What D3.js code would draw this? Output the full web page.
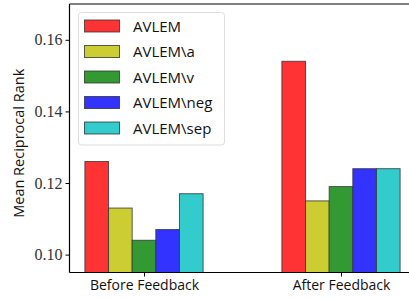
<!DOCTYPE html>
<html>
<head>
<script src="https://cdn.jsdelivr.net/npm/d3@7"></script>
<style>
	body { margin: 0; background: #fff; }
	svg { display: block; }
</style>
</head>
<body>
<div id="container"></div>
<script>
	const width = 409, height = 299;

	// chart data
	const groups = ["Before Feedback", "After Feedback"];
	const models = ["AVLEM", "AVLEM\\a", "AVLEM\\v", "AVLEM\\neg", "AVLEM\\sep"];
	const colors = ["#ff3333", "#cccc33", "#339933", "#3333ff", "#33cccc"];
	const before = [0.126, 0.113, 0.104, 0.107, 0.117];
	const after = [0.154, 0.115, 0.119, 0.124, 0.124];
	const yTicks = [0.10, 0.12, 0.14, 0.16];

	const values = [before, after];
	const barW = 0.12;

	const mLeft = 69.5, mTop = 4, mBottom = 272.5;

	// x in "category units": tick 0 at 144px, tick 1 at 341px
	const x = d3.scaleLinear().domain([0, 1]).range([144, 341]);
	const y = d3.scaleLinear().domain([0.095, 0.17]).range([mBottom, mTop]);

	const svg = d3.select("#container").append("svg")
		.attr("width", width).attr("height", height);

	svg.append("clipPath").attr("id", "plot")
		.append("rect").attr("x", mLeft).attr("y", mTop).attr("width", width - mLeft).attr("height", mBottom - mTop);

	/*** bars ***/
	const bars = svg.append("g").attr("clip-path", "url(#plot)");
	groups.forEach(function(g, gi) {
		models.forEach(function(m, mi) {
			const x0 = x(gi + (mi - 2.5) * barW);
			const x1 = x(gi + (mi - 1.5) * barW);
			bars.append("rect")
				.attr("x", x0).attr("width", x1 - x0)
				.attr("y", y(values[gi][mi]))
				.attr("height", y(0.095) - y(values[gi][mi]) + 2)
				.attr("fill", colors[mi])
				.attr("stroke", "#333").attr("stroke-opacity", 0.8).attr("stroke-width", 1);
		});
	});

	/*** axes ***/
	const yAxis = d3.axisLeft(y).tickValues(yTicks).tickSize(4).tickPadding(3).tickFormat(d3.format(".2f"));
	const ga = svg.append("g").attr("transform", "translate(" + mLeft + ",0)").call(yAxis);
	ga.select(".domain").remove();
	ga.selectAll("text").attr("font-family", "'Liberation Serif', serif")
		.attr("font-size", 16).attr("fill", "#333");
	ga.selectAll("line").attr("stroke", "#000");

	const xAxis = d3.axisBottom(x).tickValues([0, 1]).tickSize(4).tickPadding(4).tickFormat(function(d) { return groups[d]; });
	const gx = svg.append("g").attr("transform", "translate(0," + mBottom + ")").call(xAxis);
	gx.select(".domain").remove();
	gx.selectAll("text").attr("font-family", "'Open Sans', 'DejaVu Sans', sans-serif")
		.attr("font-size", 14).attr("fill", "#111");

	// spines
	svg.append("line").attr("x1", mLeft).attr("x2", mLeft).attr("y1", mTop).attr("y2", mBottom).attr("stroke", "#000").attr("stroke-width", 1.2);
	svg.append("line").attr("x1", mLeft).attr("x2", width).attr("y1", mTop).attr("y2", mTop).attr("stroke", "#000").attr("stroke-width", 1.2);
	svg.append("line").attr("x1", mLeft).attr("x2", width).attr("y1", mBottom).attr("y2", mBottom).attr("stroke", "#000").attr("stroke-width", 1.2);

	svg.append("text")
		.attr("transform", "translate(24," + ((mTop + mBottom) / 2 + 5) + ") rotate(-90)")
		.attr("text-anchor", "middle")
		.attr("font-family", "'Open Sans', 'DejaVu Sans', sans-serif").attr("font-size", 14.5).attr("fill", "#111")
		.text("Mean Reciprocal Rank");

	/*** legend ***/
	const leg = svg.append("g");
	leg.append("rect").attr("x", 78.5).attr("y", 12.5).attr("width", 146).attr("height", 132.5)
		.attr("rx", 3).attr("fill", "#fff").attr("fill-opacity", 0.8).attr("stroke", "#ddd");
	models.forEach(function(m, i) {
		const cy = 26 + i * 25.5;
		leg.append("rect").attr("x", 84.5).attr("y", cy - 6).attr("width", 35).attr("height", 12)
			.attr("fill", colors[i]).attr("stroke", "#333").attr("stroke-opacity", 0.8);
		leg.append("text").attr("x", 133).attr("y", cy + 5.5)
			.attr("font-family", "'Open Sans', 'DejaVu Sans', sans-serif").attr("font-size", 15).attr("fill", "#111")
			.text(m);
	});
</script>
</body>
</html>
